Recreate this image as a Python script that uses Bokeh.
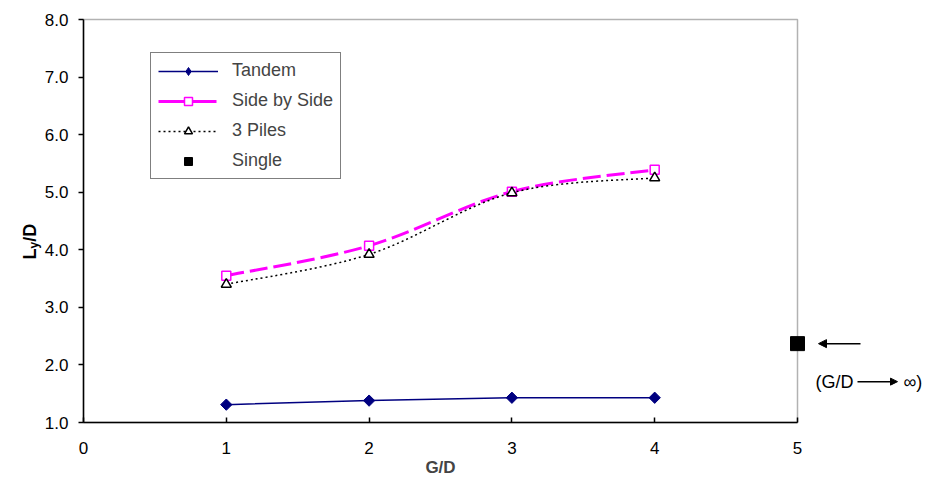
import numpy as np
from bokeh.plotting import figure
from bokeh.models import (Range1d, FixedTicker, PrintfTickFormatter, Legend, LegendItem,
                          PolyAnnotation, Label, Arrow, NormalHead)
from bokeh.embed import file_html
from bokeh.resources import INLINE

# ---- data ----
gd = [1, 2, 3, 4]
tandem = [1.31, 1.38, 1.43, 1.43]
side_by_side = [3.55, 4.07, 5.01, 5.39]
three_piles = [3.40, 3.92, 4.99, 5.25]
single_x = [5]
single_y = [2.37]
x_ticks = [0, 1, 2, 3, 4, 5]
y_ticks = [1, 2, 3, 4, 5, 6, 7, 8]

FONT = "Liberation Sans"
W, H = 926, 496
# plot area (axis box) in pixels
L, R, T, B = 83, 797, 19, 422
XMIN, XMAX, YMIN, YMAX = 0, 5, 1, 8
PX_X = (XMAX - XMIN) / (R - L)   # data units per pixel
PX_Y = (YMAX - YMIN) / (B - T)

p = figure(width=W, height=H, output_backend="svg", toolbar_location=None,
           x_range=Range1d(XMIN - L * PX_X, XMAX + (W - R) * PX_X),
           y_range=Range1d(YMIN - (H - B) * PX_Y, YMAX + T * PX_Y),
           min_border=0, min_border_left=0, min_border_right=0,
           min_border_top=0, min_border_bottom=0)
p.grid.visible = False
p.outline_line_color = None
p.background_fill_color = "white"
p.border_fill_color = "white"

# axes fixed at the plot-area edges
p.xaxis.fixed_location = YMIN
p.yaxis.fixed_location = XMIN
p.xaxis.ticker = FixedTicker(ticks=x_ticks)
p.xaxis.bounds = (XMIN, XMAX)
p.xaxis.major_tick_in = 5
p.xaxis.major_tick_out = 0
p.xaxis.minor_tick_line_color = None
p.xaxis.major_label_standoff = 19
p.xaxis.axis_label = "G/D"
p.xaxis.axis_label_text_font = FONT
p.xaxis.axis_label_text_font_style = "bold"
p.xaxis.axis_label_text_font_size = "17px"
p.xaxis.axis_label_standoff = 1

p.yaxis.ticker = FixedTicker(ticks=y_ticks)
p.yaxis.bounds = (YMIN, YMAX)
p.yaxis.formatter = PrintfTickFormatter(format="%.1f")
p.yaxis.major_tick_in = 0
p.yaxis.major_tick_out = 5
p.yaxis.minor_tick_line_color = None
p.yaxis.major_label_standoff = 10

for ax in (p.xaxis, p.yaxis):
    ax.axis_line_color = "black"
    ax.axis_line_width = 1.5
    ax.major_tick_line_color = "black"
    ax.major_tick_line_width = 1.5
    ax.major_label_text_font = FONT
    ax.major_label_text_font_size = "17px"
    ax.major_label_text_color = "black"

# plot-area box
p.add_layout(PolyAnnotation(xs=[XMIN, XMAX, XMAX, XMIN], ys=[YMIN, YMIN, YMAX, YMAX],
                            fill_alpha=0, line_color="black", line_width=1.5))


def smooth(xs, ys):
    x = np.asarray(xs, float)
    y = np.asarray(ys, float)
    n = len(x)
    xp = np.concatenate([[x[0]], x, [x[-1]]])
    yp = np.concatenate([[y[0]], y, [y[-1]]])
    cx0 = xp[1:n] + (xp[2:n + 1] - xp[0:n - 1]) / 6
    cy0 = yp[1:n] + (yp[2:n + 1] - yp[0:n - 1]) / 6
    cx1 = xp[2:n + 1] - (xp[3:n + 2] - xp[1:n]) / 6
    cy1 = yp[2:n + 1] - (yp[3:n + 2] - yp[1:n]) / 6
    return dict(x0=x[:-1], y0=y[:-1], x1=x[1:], y1=y[1:], cx0=cx0, cy0=cy0, cx1=cx1, cy1=cy1)


NAVY = "#000080"
MAG = "#FF00FF"
SBS_DASH = "18 6"
PILE_DASH = "2 3"

# Tandem
t_l = p.line(gd, tandem, line_color=NAVY, line_width=1.5)
p.scatter(gd, tandem, marker="square", angle=np.pi / 4, size=8,
          fill_color=NAVY, line_color=NAVY)

# Side by side
p.bezier(**smooth(gd, side_by_side), line_color=MAG, line_width=3, line_dash=SBS_DASH)
s_m = p.scatter(gd, side_by_side, marker="square", size=9, fill_color="white",
                line_color=MAG, line_width=1.5)

# 3 piles
p.bezier(**smooth(gd, three_piles), line_color="black", line_width=1.5, line_dash=PILE_DASH)
p_m = p.scatter(gd, three_piles, marker="triangle", size=10, fill_color="white",
                line_color="black", line_width=1.5)

# single
g_m = p.scatter(single_x, single_y, marker="square", size=14, fill_color="black",
                line_color="black")

# legend-only renderers (one NaN point so nothing shows in the plot)
t_lm = p.scatter([np.nan], [np.nan], marker="diamond", size=13, fill_color=NAVY, line_color=NAVY)
s_l = p.line([np.nan], [np.nan], line_color=MAG, line_width=3, line_dash="26 6")
p_l = p.line([np.nan], [np.nan], line_color="black", line_width=1.5, line_dash=PILE_DASH)

legend = Legend(items=[
    LegendItem(label="Tandem", renderers=[t_l, t_lm]),
    LegendItem(label="Side by Side", renderers=[s_l, s_m]),
    LegendItem(label="3 Piles", renderers=[p_l, p_m]),
    LegendItem(label="Single", renderers=[g_m]),
], location=(150, H - 179), border_line_color="black", border_line_width=1.5,
    padding=7, spacing=9, glyph_width=60, glyph_height=20, label_standoff=14,
    label_text_font=FONT, label_text_font_size="18px", margin=0,
    background_fill_color="white", background_fill_alpha=1)
p.add_layout(legend)

# y axis label  L_y/D  (rotated pieces)
ylab_x = XMIN - (L - 29) * PX_X
base_y = YMIN + (B - 259) * PX_Y
p.add_layout(Label(x=ylab_x, y=base_y, text="L", angle=np.pi / 2, text_align="left",
                   text_baseline="middle", text_font=FONT, text_font_style="bold",
                   text_font_size="18px", text_color="black"))
p.add_layout(Label(x=ylab_x + 4.5 * PX_X, y=base_y + 11.0 * PX_Y, text="y", angle=np.pi / 2,
                   text_align="left", text_baseline="middle", text_font=FONT,
                   text_font_style="bold", text_font_size="12px", text_color="black"))
p.add_layout(Label(x=ylab_x, y=base_y + 17.7 * PX_Y, text="/D", angle=np.pi / 2,
                   text_align="left", text_baseline="middle", text_font=FONT,
                   text_font_style="bold", text_font_size="18px", text_color="black"))

# annotation to the right of Single
sx, sy = single_x[0], single_y[0]
p.add_layout(Arrow(end=NormalHead(size=8, fill_color="black", line_color="black"),
                   x_start=sx + 63 * PX_X, y_start=sy, x_end=sx + 21 * PX_X, y_end=sy,
                   line_color="black", line_width=1.5))
ty = sy - 38 * PX_Y
p.add_layout(Label(x=sx + 18 * PX_X, y=ty, text="(G/D", text_baseline="middle",
                   text_font=FONT, text_font_size="18px", text_color="black"))
p.add_layout(Arrow(end=NormalHead(size=7, fill_color="black", line_color="black"),
                   x_start=sx + 60 * PX_X, y_start=ty, x_end=sx + 100 * PX_X, y_end=ty,
                   line_color="black", line_width=1.5))
p.add_layout(Label(x=sx + 106 * PX_X, y=ty, text="∞)", text_baseline="middle",
                   text_font=FONT, text_font_size="18px", text_color="black"))

open("out.html", "w").write(file_html(p, INLINE))
